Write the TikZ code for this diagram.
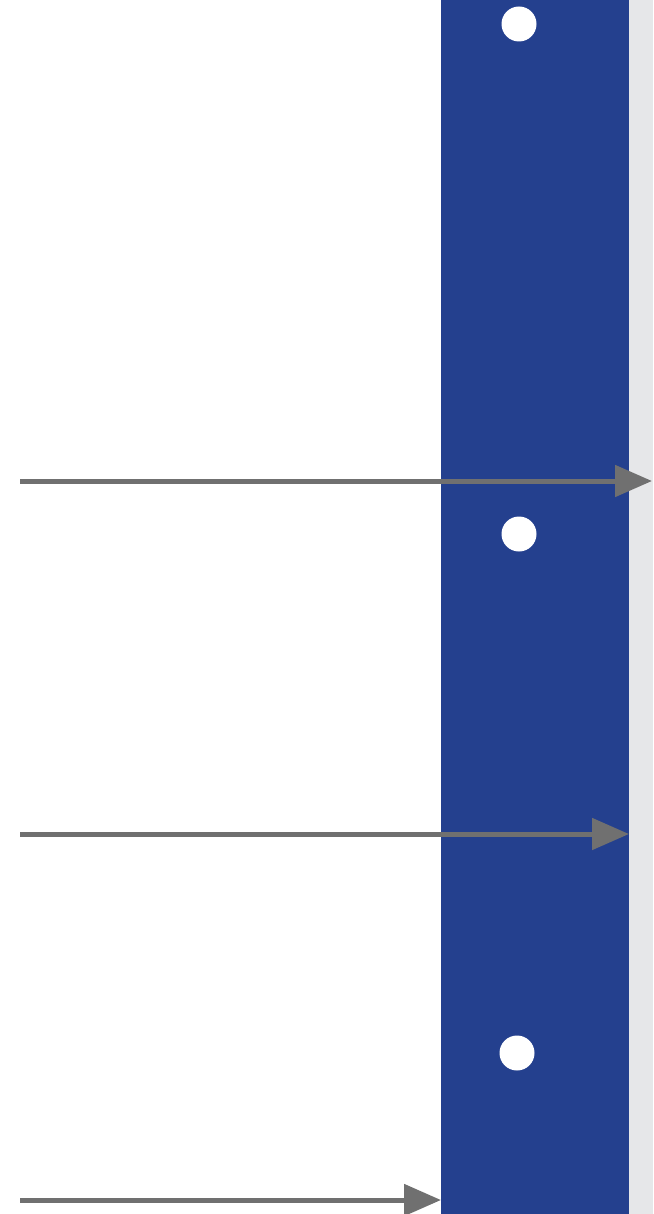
\documentclass[tikz,border=0pt]{standalone}
\usetikzlibrary{arrows.meta}
\definecolor{bandblue}{HTML}{24408E}
\definecolor{stripgrey}{HTML}{E6E7E9}
\definecolor{arrowgrey}{HTML}{707070}
\begin{document}
\begin{tikzpicture}[x=1pt,y=-1pt,
  dot/.style={circle,fill=white,minimum size=35pt,inner sep=0pt},
  flow/.style={draw=arrowgrey,line width=5pt,-{Triangle[length=37pt,width=31pt,fill=arrowgrey]}}]
\useasboundingbox (0,0) rectangle (653,1214);
\fill[white] (0,0) rectangle (653,1214);
\fill[bandblue] (441,0) rectangle (629,1214);
\fill[stripgrey] (629,0) rectangle (653,1214);
\node[dot] (d1) at (519,24) {};
\node[dot] (d2) at (519,534) {};
\node[dot] (d3) at (517,1053) {};
\coordinate (s1) at (20,481);
\coordinate (e1) at (652,481);
\coordinate (s2) at (20,834);
\coordinate (e2) at (629,834);
\coordinate (s3) at (20,1200);
\coordinate (e3) at (441,1200);
\draw[flow] (s1) -- (e1);
\draw[flow] (s2) -- (e2);
\draw[flow] (s3) -- (e3);
\end{tikzpicture}
\end{document}
